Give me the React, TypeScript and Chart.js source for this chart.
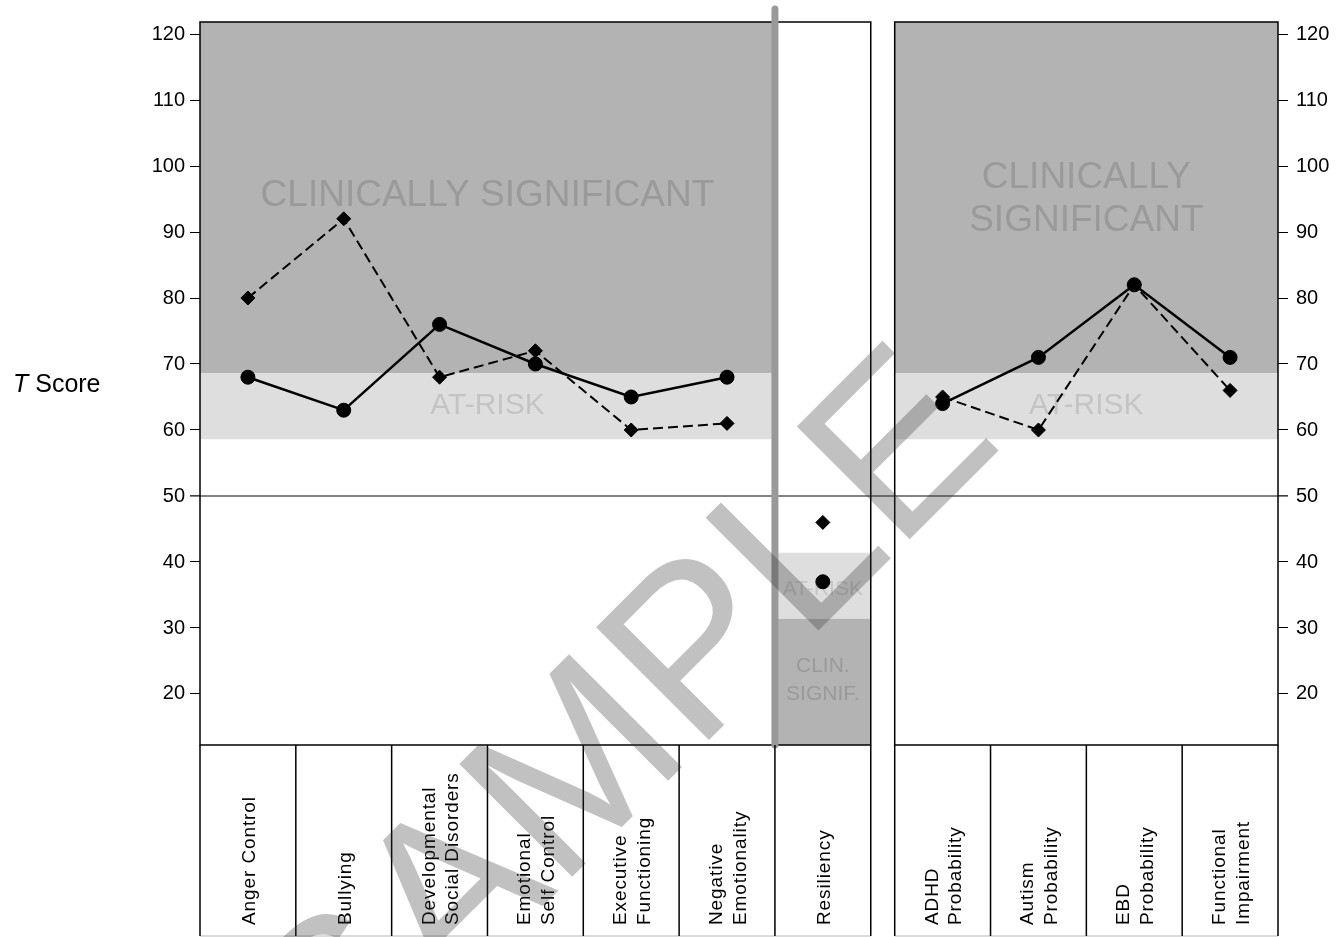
import React, { useEffect, useRef } from "react";
import { Chart, registerables } from "chart.js";

Chart.register(...registerables);

// ---------------- data ----------------
const LEFT_SCALES = [
  "Anger Control",
  "Bullying",
  "Developmental\nSocial Disorders",
  "Emotional\nSelf Control",
  "Executive\nFunctioning",
  "Negative\nEmotionality",
];
const LEFT_SOLID = [68, 63, 76, 70, 65, 68];
const LEFT_DASHED = [80, 92, 68, 72, 60, 61];

const RES_SCALES = ["Resiliency"];
const RES_SOLID = [37];
const RES_DASHED = [46];

const RIGHT_SCALES = [
  "ADHD\nProbability",
  "Autism\nProbability",
  "EBD\nProbability",
  "Functional\nImpairment",
];
const RIGHT_SOLID = [64, 71, 82, 71];
const RIGHT_DASHED = [65, 60, 82, 66];

const Y_TICKS = [20, 30, 40, 50, 60, 70, 80, 90, 100, 110, 120];
const Y_MIN = 12.27;
const Y_MAX = 121.82;
const MEAN_LINE = 50;
const HIGH_RISK_BAND = [58.6, 68.6]; // at-risk for problem scales (above = clinically significant)
const LOW_RISK_BAND = [31.4, 41.4]; // at-risk for resiliency (below = clinically significant)

// ---------------- layout / style ----------------
const W = 1343;
const H = 937;
const GAP = 0.25; // gap between panels in category units
const N_LEFT = LEFT_SCALES.length + RES_SCALES.length; // 7
const X_MAX = N_LEFT + GAP + RIGHT_SCALES.length;
const FONT = '"Liberation Sans", Arial, Helvetica, sans-serif';
const DARK = "#b3b3b3";
const LIGHT = "#dedede";
const TXT_DARK = "#9a9a9a";
const TXT_LIGHT = "#c4c4c4";

const leftX = LEFT_SCALES.map((_, i) => i + 0.5);
const resX = RES_SCALES.map((_, i) => LEFT_SCALES.length + i + 0.5);
const rightX = RIGHT_SCALES.map((_, j) => N_LEFT + GAP + j + 0.5);

const pts = (xs: number[], ys: number[]) => xs.map((x, i) => ({ x, y: ys[i] }));

const solidStyle = {
  borderColor: "#000",
  backgroundColor: "#000",
  borderWidth: 2.5,
  pointStyle: "circle",
  pointRadius: 7,
  pointBorderWidth: 1,
  pointBackgroundColor: "#000",
  pointBorderColor: "#000",
};
const dashedStyle = {
  borderColor: "#000",
  backgroundColor: "#000",
  borderWidth: 2,
  borderDash: [10, 5],
  pointStyle: "rectRot",
  pointRadius: 7,
  pointBorderWidth: 1,
  pointBackgroundColor: "#000",
  pointBorderColor: "#000",
};

function capText(ctx: CanvasRenderingContext2D, text: string, x: number, yCenter: number, size: number, color: string) {
  ctx.font = `${size}px ${FONT}`;
  ctx.fillStyle = color;
  ctx.textAlign = "center";
  ctx.textBaseline = "alphabetic";
  ctx.fillText(text, x, yCenter + size * 0.358);
}

const backgroundPlugin = {
  id: "panelsBackground",
  beforeDatasetsDraw(chart: any) {
    const { ctx, chartArea: a, scales } = chart;
    const px = (v: number) => scales.x.getPixelForValue(v);
    const py = (v: number) => scales.y.getPixelForValue(v);
    const L0 = px(0);
    const L6 = px(LEFT_SCALES.length);
    const L7 = px(N_LEFT);
    const R0 = px(N_LEFT + GAP);
    const R4 = px(X_MAX);
    ctx.save();
    for (const [x0, x1] of [[L0, L6], [R0, R4]]) {
      ctx.fillStyle = DARK;
      ctx.fillRect(x0, a.top, x1 - x0, py(HIGH_RISK_BAND[1]) - a.top);
      ctx.fillStyle = LIGHT;
      ctx.fillRect(x0, py(HIGH_RISK_BAND[1]), x1 - x0, py(HIGH_RISK_BAND[0]) - py(HIGH_RISK_BAND[1]));
    }
    ctx.fillStyle = LIGHT;
    ctx.fillRect(L6, py(LOW_RISK_BAND[1]), L7 - L6, py(LOW_RISK_BAND[0]) - py(LOW_RISK_BAND[1]));
    ctx.fillStyle = DARK;
    ctx.fillRect(L6, py(LOW_RISK_BAND[0]), L7 - L6, a.bottom - py(LOW_RISK_BAND[0]));

    const lc = (L0 + L6) / 2;
    const rc = (R0 + R4) / 2;
    const sc = (L6 + L7) / 2;
    capText(ctx, "CLINICALLY SIGNIFICANT", lc, py(95.9), 37, TXT_DARK);
    capText(ctx, "CLINICALLY", rc, py(98.6), 37, TXT_DARK);
    capText(ctx, "SIGNIFICANT", rc, py(92.1), 37, TXT_DARK);
    capText(ctx, "AT-RISK", lc, py(64.1), 30, TXT_LIGHT);
    capText(ctx, "AT-RISK", rc, py(64.1), 30, TXT_LIGHT);
    capText(ctx, "AT-RISK", sc, py(36.1), 21, TXT_LIGHT);
    capText(ctx, "CLIN.", sc, py(24.4), 21, TXT_DARK);
    capText(ctx, "SIGNIF.", sc, py(20.2), 21, TXT_DARK);

    ctx.strokeStyle = "#5a5a5a";
    ctx.lineWidth = 1.5;
    ctx.beginPath();
    ctx.moveTo(L0 - 10, py(MEAN_LINE));
    ctx.lineTo(R4 + 10, py(MEAN_LINE));
    ctx.stroke();

    ctx.strokeStyle = "#000";
    ctx.lineWidth = 1.5;
    ctx.strokeRect(L0, a.top, L7 - L0, a.bottom - a.top);
    ctx.strokeRect(R0, a.top, R4 - R0, a.bottom - a.top);

    ctx.strokeStyle = "#999999";
    ctx.lineWidth = 7;
    ctx.lineCap = "round";
    ctx.beginPath();
    ctx.moveTo(L6, a.top - 13);
    ctx.lineTo(L6, a.bottom);
    ctx.stroke();
    ctx.restore();
  },
  afterDraw(chart: any) {
    const { ctx, chartArea: a, scales } = chart;
    const px = (v: number) => scales.x.getPixelForValue(v);
    ctx.save();
    const top = a.bottom;
    const bottom = H - 1;
    ctx.strokeStyle = "#d0d0d0";
    ctx.lineWidth = 1.5;
    ctx.beginPath();
    ctx.moveTo(px(0), bottom);
    ctx.lineTo(px(N_LEFT), bottom);
    ctx.moveTo(px(N_LEFT + GAP), bottom);
    ctx.lineTo(px(X_MAX), bottom);
    ctx.stroke();
    ctx.strokeStyle = "#000";
    ctx.lineWidth = 1.5;
    ctx.beginPath();
    for (let k = 0; k <= N_LEFT; k++) {
      ctx.moveTo(px(k), top);
      ctx.lineTo(px(k), bottom);
    }
    for (let k = 0; k <= RIGHT_SCALES.length; k++) {
      ctx.moveTo(px(N_LEFT + GAP + k), top);
      ctx.lineTo(px(N_LEFT + GAP + k), bottom);
    }
    ctx.stroke();

    const all = [
      ...LEFT_SCALES.map((t, i) => ({ t, x: leftX[i] })),
      ...RES_SCALES.map((t, i) => ({ t, x: resX[i] })),
      ...RIGHT_SCALES.map((t, i) => ({ t, x: rightX[i] })),
    ];
    const size = 19;
    const capH = size * 0.716;
    const gap = 23.5;
    ctx.font = `${size}px ${FONT}`;
    (ctx as any).letterSpacing = "0.9px";
    ctx.fillStyle = "#000";
    ctx.textAlign = "left";
    ctx.textBaseline = "alphabetic";
    for (const { t, x } of all) {
      const lines = t.split("\n");
      ctx.save();
      ctx.translate(px(x), 925);
      ctx.rotate(-Math.PI / 2);
      lines.forEach((ln, i) => {
        const dy = (i - (lines.length - 1) / 2) * gap + capH / 2;
        ctx.fillText(ln, 0, dy);
      });
      ctx.restore();
    }
    (ctx as any).letterSpacing = "0px";

    ctx.fillStyle = "#000";
    ctx.textAlign = "left";
    ctx.font = `italic 25px ${FONT}`;
    ctx.fillText("T", 13, 392);
    const tw = ctx.measureText("T").width;
    ctx.font = `25px ${FONT}`;
    ctx.fillText(" Score", 13 + tw, 392);

    // watermark
    ctx.translate(340, 1109);
    ctx.rotate(-Math.PI / 4);
    ctx.font = `232px ${FONT}`;
    ctx.fillStyle = "rgba(50,50,50,0.3)";
    ctx.fillText("SAMPLE", 0, 0);
    ctx.restore();
  },
};

export default function App() {
  const ref = useRef<HTMLCanvasElement | null>(null);
  useEffect(() => {
    if (!ref.current) return;
    Chart.defaults.font.family = FONT;
    const yAxis = (position: "left" | "right", width: number, padding: number) => ({
      type: "linear",
      position,
      min: Y_MIN,
      max: Y_MAX,
      afterBuildTicks: (s: any) => {
        s.ticks = Y_TICKS.map((v) => ({ value: v }));
      },
      afterFit: (s: any) => {
        s.width = width;
      },
      ticks: { color: "#000", font: { size: 20, family: FONT }, padding },
      grid: { drawOnChartArea: false, drawTicks: true, tickLength: 10, color: "#000", lineWidth: 1 },
      border: { display: false },
    });
    const chart = new Chart(ref.current, {
      type: "line",
      data: {
        datasets: [
          { label: "solid-left", data: pts(leftX, LEFT_SOLID), ...solidStyle },
          { label: "solid-res", data: pts(resX, RES_SOLID), ...solidStyle },
          { label: "solid-right", data: pts(rightX, RIGHT_SOLID), ...solidStyle },
          { label: "dashed-left", data: pts(leftX, LEFT_DASHED), ...dashedStyle },
          { label: "dashed-res", data: pts(resX, RES_DASHED), ...dashedStyle },
          { label: "dashed-right", data: pts(rightX, RIGHT_DASHED), ...dashedStyle },
        ] as any,
      },
      options: {
        animation: false,
        responsive: false,
        events: [],
        layout: { padding: { top: 22, bottom: 192, left: 0, right: 0 } },
        scales: {
          x: { type: "linear", min: 0, max: X_MAX, display: false },
          y: yAxis("left", 200, 5) as any,
          y2: yAxis("right", W - 1278, 8) as any,
        },
        plugins: { legend: { display: false }, tooltip: { enabled: false } },
      } as any,
      plugins: [backgroundPlugin],
    });
    return () => chart.destroy();
  }, []);
  return (
    <div style={{ position: "absolute", left: 0, top: 0, width: W, height: H, background: "#fff" }}>
      <canvas ref={ref} width={W} height={H} style={{ display: "block" }} />
    </div>
  );
}
